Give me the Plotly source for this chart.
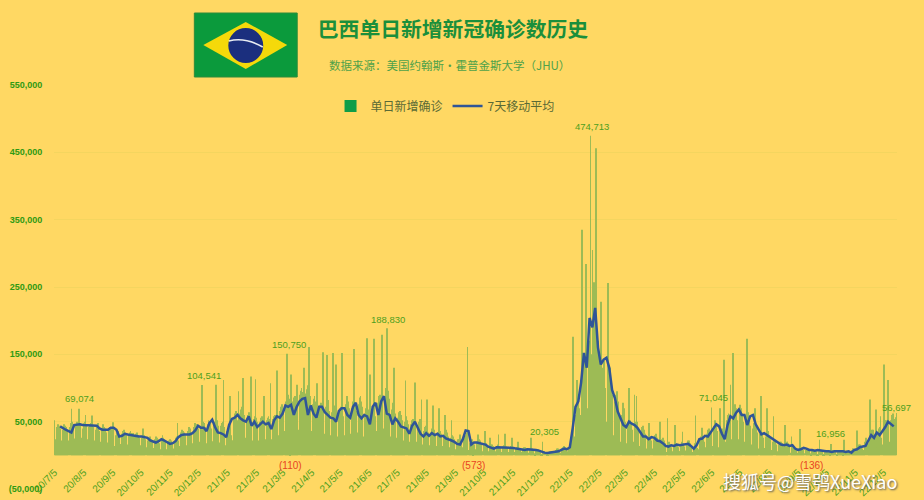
import numpy as np
import pandas as pd
import plotly.graph_objects as go

# ---------- data (thousands, one row per week starting 2020-07-05) ----------
weekly_rows = [
[52,24,22,42,46,44,40],[22,20,38,46,44,42,36],[24,22,42,48,69.074,50,44],[25,21,44,50,46,69,48],
[26,20,40,48,50,60,44],[24,18,42,46,48,59,42],[22,18,38,44,48,40,36],[20,16,40,46,42,40,34],
[19,15,38,42,40,38,49],[18,14,30,34,32,36,30],[17,13,32,36,38,34,30],[16,12,32,34,36,33,28],
[33,13,28,32,34,30,26],[15,11,26,40,30,28,24],[12,9,22,26,28,24,20],[11,8,24,28,26,24,18],
[10,9,24,30,26,24,20],[9,8,20,22,24,22,18],[10,9,22,26,28,48,22],[14,12,34,38,36,34,30],
[15,14,36,42,40,38,32],[18,16,42,48,46,46,40],[20,18,44,104.541,50,48,42],[20,18,46,52,50,48,40],
[21,18,46,50,105,52,44],[19,17,44,48,50,112,42],[15,12,36,40,42,88,30],[22,22,56,62,66,60,52],
[95,26,62,68,72,115,60],[26,24,56,60,64,58,117],[24,22,54,58,113,56,50],[22,20,50,56,58,52,88],
[24,22,52,56,58,54,107],[24,22,54,58,60,56,126],[30,28,66,72,76,70,62],[36,34,80,150.75,90,84,-0.11],
[120,38,80,86,88,84,105],[42,38,90,96,100,94,82],[130,40,92,98,104,161,88],[36,32,76,84,88,80,70],
[107,28,66,74,78,72,153],[32,30,72,149,82,74,66],[30,26,64,152,74,68,135],[28,26,60,70,72,152,58],
[34,30,76,84,88,80,70],[32,28,70,80,158,76,66],[34,30,76,86,88,80,72],[28,26,62,70,174,68,58],
[120,26,60,70,173,68,58],[36,32,78,88,90,86,179],[40,36,88,100,188.83,96,84],[30,28,68,76,78,130,62],
[26,24,56,64,66,60,52],[22,20,50,111,58,52,46],[20,18,46,52,54,50,108],[20,18,44,50,54,48,83],
[16,14,36,42,44,83,34],[15,13,34,40,74,38,30],[16,14,34,40,70,36,32],[14,12,30,60,38,34,28],
[12,10,26,52,30,28,24],[9,8,20,24,24,31,18],[12,10,24,30,28,34,161],[8,6,18,22,24,-0.573,16],
[9,7,20,31,24,22,18],[8,6,17,20,36,18,14],[6,5,26,16,16,14,12],[6,5,14,16,31,14,12],
[5,4,13,15,32,13,11],[5,4,12,14,26,13,10],[5,4,10,12,20,11,9],[5,4,10,12,12,11,9],
[5,4,10,12,26,10,8],[3,2,7,8,9,8,6],[2,2,20.305,6,6,5,4],[2,2,4,6,6,5,4],
[3,3,8,10,10,9,7],[4,3,10,12,14,12,10],[6,5,12,16,20,24,176],[30,28,60,80,112,90,70],
[60,50,335,130,140,120,284],[70,60,160,170,474.713,150,305],[80,257,150,456,180,170,140],[60,228,120,130,140,120,100],
[50,45,256,120,130,110,90],[30,25,80,90,95,80,60],[25,20,60,70,78,70,50],[18,16,44,100,52,46,38],
[20,18,90,50,88,50,40],[14,12,36,42,44,38,32],[10,9,26,48,32,28,22],[10,8,24,30,32,26,20],
[8,50,20,24,26,22,18],[6,5,55,18,20,16,12],[6,5,14,45,18,16,12],[6,6,16,20,35,18,13],
[7,6,16,22,22,18,14],[5,4,12,18,59,14,11],[9,8,22,28,41,24,20],[12,10,32,38,40,34,26],
[71.045,14,44,50,52,46,36],[12,10,70,38,40,34,142],[20,18,52,60,62,58,105],[24,22,152,72,76,70,52],
[24,20,75,66,70,62,50],[20,18,52,173,64,56,44],[16,14,40,48,70,44,34],[12,10,32,36,88,32,26],
[11,10,28,70,36,30,24],[8,7,20,58,24,20,16],[6,5,16,20,20,18,13],[6,45,16,20,20,18,13],
[4,28,10,12,12,10,8],[4,3,10,39,12,10,8],[3,3,8,10,10,8,7],[3,-0.136,7,8,8,7,6],
[2,2,6,23,8,7,5],[2,2,6,8,8,7,5],[2,16.956,6,8,8,7,5],[2,2,6,8,8,7,5],
[2,23,5,6,7,5,4],[3,3,8,10,10,8,7],[5,37,12,16,16,13,10],[8,7,20,26,26,22,18],
[12,83,30,38,38,32,26],[68,12,32,40,42,58,26],[16,14,135,52,52,44,112],[20,18,52,60,62,54,44],
[56.697,63],
]

# 7-day moving average in thousands, read every third day from 2020-07-11
moving_avg = [
43,40,38,36,34,45,46,46,45,45,44,44,45,44,40,38,38,38,41,41,38,28,29,32,31,30,29,28,28,28,
27,26,22,21,19,21,24,22,19,17,18,21,27,30,31,31,31,33,37,44,41,41,36,48,53,42,34,33,31,27,
45,54,56,60,55,52,50,58,44,50,42,46,50,46,48,39,52,58,56,62,74,72,75,60,72,80,84,85,60,74,
62,56,72,72,64,60,56,55,50,66,70,70,60,56,72,78,60,55,60,58,46,72,78,60,80,88,62,60,46,55,
50,43,42,40,32,44,50,42,32,28,33,29,33,30,32,28,29,25,24,22,20,17,16,24,37,36,16,19,19,18,
17,16,13,11,10,12,12,12,11,12,11,11,10,9,9,8,9,9,9,8,7,5,4,3.5,4,4,4.5,6,8,10,
9,12,40,72,80,108,152,130,204,190,219,160,135,142,145,130,97,85,65,55,45,42,50,47,45,41,35,28,28,24,
27,26,22,21,18,14,13,15,14,16,15,16,17,17,14,10,15,24,25,29,28,35,40,46,43,32,24,45,58,55,
63,68,60,60,45,58,60,46,38,31,33,30,28,24,22,18,16,15,16,14,15,10,8,9,11,10,8,8,7,8,
7,6,6,6,5,6,6,7,6,5,6,4,8,9,12,13,14,22,30,26,34,30,36,42,50,46,43,
]

tick_labels = [
"20/7/5","20/8/5","20/9/5","20/10/5","20/11/5","20/12/5","21/1/5","21/2/5","21/3/5","21/4/5",
"21/5/5","21/6/5","21/7/5","21/8/5","21/9/5","21/10/5","21/11/5","21/12/5","22/1/5","22/2/5",
"22/3/5","22/4/5","22/5/5","22/6/5","22/7/5","22/8/5","22/9/5","22/10/5","22/11/5","22/12/5",
]
y_tick_values = [-50000,50000,150000,250000,350000,450000,550000]
y_tick_labels = ["(50,000)","50,000","150,000","250,000","350,000","450,000","550,000"]

peak_days = [18,157,248,354,571,520,700,827,896]
peak_values = [69074,104541,150750,188830,474713,20305,71045,16956,56697]
peak_dx = [8,2,2,1,1,1.5,1.5,0,1]
peak_dy = [10,9,9,9,9,10,10,10,10]
neg_days = [251,446,806]
neg_values = [-110,-573,-136]

SERIES_BAR = "单日新增确诊"
SERIES_LINE = "7天移动平均"
TITLE = "巴西单日新增新冠确诊数历史"
SUBTITLE = "数据来源：美国约翰斯·霍普金斯大学（JHU）"
WATERMARK = "搜狐号@雪鸮XueXiao"

# ---------- derived ----------
START = pd.Timestamp("2020-07-05")
daily = np.array([v for row in weekly_rows for v in row]) * 1000
bar_dates = pd.date_range(START, periods=len(daily), freq="D")
ma_dates = pd.date_range("2020-07-11", periods=len(moving_avg), freq="3D")
ma_vals = np.array(moving_avg) * 1000
tick_dates = [pd.Timestamp(f"20{a}-{int(b):02d}-{int(c):02d}") for a, b, c in (t.split("/") for t in tick_labels)]

W, H = 924, 500
L, R, T, B = 53.5, 26.5, 85, 11
PW, PH = W - L - R, H - T - B
px = lambda x: (x - L) / PW
py = lambda y: 1 - (y - T) / PH
ZERO_Y = 455.7

BG = "#FFD863"
GREEN = "#4E9F1E"
CJK = "Noto Sans CJK SC"
LAT = "Liberation Sans"

fig = go.Figure()
fig.add_trace(go.Bar(x=bar_dates, y=daily, marker=dict(color="#9DBB55", line_width=0), showlegend=False, hoverinfo="skip"))
fig.add_trace(go.Bar(x=[None], y=[None], name=SERIES_BAR, marker=dict(color="#0F9D48", line_width=0)))
fig.add_trace(go.Scatter(x=ma_dates, y=ma_vals, mode="lines", name=SERIES_LINE,
                         line=dict(color="#2F5597", width=2.5)))

annotations = []
for d, v, dx, dy in zip(peak_days, peak_values, peak_dx, peak_dy):
    annotations.append(dict(x=START + pd.Timedelta(days=d), y=v, xref="x", yref="y", text=f"{v:,}", showarrow=False,
                            xanchor="center", yanchor="middle", xshift=dx, yshift=dy,
                            font=dict(family=LAT, size=9.5, color=GREEN)))
for d, v in zip(neg_days, neg_values):
    annotations.append(dict(x=START + pd.Timedelta(days=d), y=0, xref="x", yref="y", text=f"({-v})", showarrow=False,
                            xanchor="center", yanchor="middle", yshift=-10,
                            font=dict(family=LAT, size=10, color="#E8431F")))
annotations.append(dict(x=px(449), y=py(65), xref="paper", yref="paper", text=SUBTITLE, showarrow=False,
                        xanchor="center", yanchor="middle", font=dict(family=CJK, size=11.5, color="#4FA24A")))
annotations.append(dict(x=px(810), y=py(481), xref="paper", yref="paper", text=WATERMARK, showarrow=False,
                        xanchor="center", yanchor="middle",
                        font=dict(family=CJK, size=18, color="#FFFFFF", shadow="1px 1px 2px #555555")))

def pshape(kind, **kw):
    return dict(type=kind, xref="paper", yref="paper", layer="above", **kw)

def path(points):
    return "M " + " L ".join(f"{px(x):.5f},{py(y):.5f}" for x, y in points) + " Z"

shapes = [
    pshape("rect", x0=px(194), x1=px(297), y0=py(13), y1=py(77), fillcolor="#0B9A3C", line=dict(color="#2E8B3A", width=1)),
    pshape("path", path=path([(203, 45), (245.5, 22), (287, 45), (245.5, 69)]), fillcolor="#F5D90A", line_width=0),
    pshape("circle", x0=px(228), x1=px(263), y0=py(28), y1=py(63), fillcolor="#1B2F7E", line_width=0),
    pshape("path", path=f"M {px(228.5):.5f},{py(41):.5f} Q {px(245):.5f},{py(37):.5f} {px(262.5):.5f},{py(47):.5f}",
           line=dict(color="#E8ECF2", width=1.5)),
]

fig.update_layout(
    width=W, height=H, autosize=False,
    margin=dict(l=L, r=R, t=T, b=B, pad=0),
    paper_bgcolor=BG, plot_bgcolor=BG,
    barmode="overlay", bargap=0.22,
    title=dict(text=f"<b>{TITLE}</b>", x=453 / W, xanchor="center", xref="container",
               y=1 - 30 / H, yanchor="middle", yref="container",
               font=dict(family=CJK, size=20.8, color="#1B8F3B"), automargin=False),
    legend=dict(orientation="h", x=px(445), xanchor="center", y=py(106), yanchor="middle",
                bgcolor="rgba(0,0,0,0)", font=dict(family=CJK, size=12, color="#5A6A35"),
                itemwidth=30, tracegroupgap=0),
    xaxis=dict(type="date", range=[START - pd.Timedelta(hours=12), START + pd.Timedelta(days=897, hours=12)],
               tickmode="array", tickvals=tick_dates, ticktext=tick_labels, tickangle=-45,
               tickfont=dict(family=LAT, size=10, color=GREEN), automargin=False,
               ticks="outside", ticklen=6, tickcolor="rgba(0,0,0,0)", showgrid=False, showline=False, zeroline=False,
               anchor="free", position=(489 - ZERO_Y) / PH),
    yaxis=dict(range=[-50000, 550000], tickmode="array", tickvals=y_tick_values, ticktext=y_tick_labels,
               tickfont=dict(family=LAT, size=9, color="#2F9A12", weight="bold"), automargin=False,
               showgrid=True, gridcolor="#F4D55F", gridwidth=1, zeroline=False, showline=False,
               ticks="outside", ticklen=9, tickcolor="rgba(0,0,0,0)"),
    annotations=annotations, shapes=shapes,
    showlegend=True,
)
fig.write_html("out.html", config={"displayModeBar": False},
               post_script="document.body.style.margin='0';document.documentElement.style.overflow='hidden';")
